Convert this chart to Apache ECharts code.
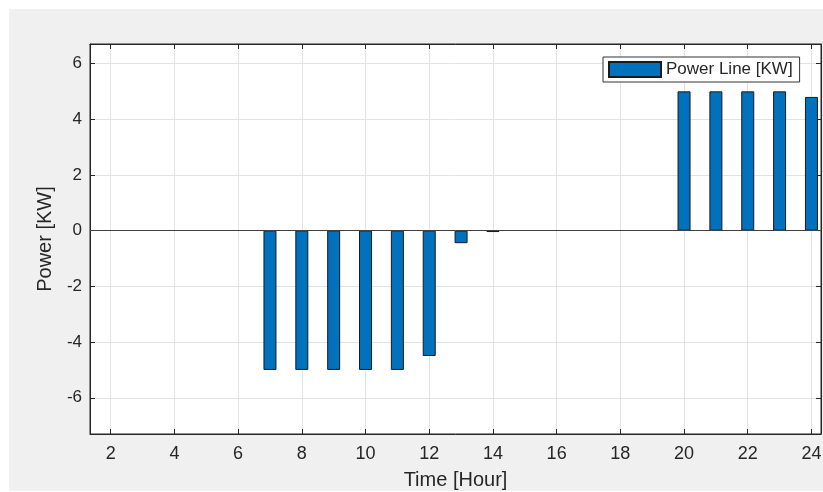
<!DOCTYPE html>
<html><head><meta charset="utf-8">
<script src="https://cdn.jsdelivr.net/npm/echarts@6/dist/echarts.min.js"></script>
<style>html,body{margin:0;padding:0;background:#fff}#c{width:823px;height:492px}</style>
</head><body><div id="c"></div>
<script>
const hours = [1,2,3,4,5,6,7,8,9,10,11,12,13,14,15,16,17,18,19,20,21,22,23,24];
const power = [0,0,0,0,0,0,-5,-5,-5,-5,-5,-4.5,-0.45,-0.05,0,0,0,0,0,5,5,5,5,4.8];
const xTicks = [2,4,6,8,10,12,14,16,18,20,22,24];
const yTicks = [-6,-4,-2,0,2,4,6];
const seriesName = 'Power Line [KW]';
const xTitle = 'Time [Hour]';
const yTitle = 'Power [KW]';

const txt = '#262626';
const font = '"Liberation Sans", Arial, Helvetica, sans-serif';
const chart = echarts.init(document.getElementById('c'), null, {renderer: 'canvas'});
const xr = [1.35, 24.3], yr = [-7.3, 6.7];
const baseAxisLine = {show: true, onZero: false, lineStyle: {color: txt, width: 1}};
chart.setOption({
  backgroundColor: '#ffffff',
  animation: false,
  textStyle: {fontFamily: font, color: txt},
  graphic: [{type: 'rect', z: -100, silent: true, shape: {x: 9, y: 9, width: 814, height: 482}, style: {fill: '#f0f0f0'}}],
  grid: {left: 90, top: 44, right: 2, bottom: 58, outerBoundsMode: 'none', containLabel: false,
         show: true, backgroundColor: '#ffffff', borderColor: txt, borderWidth: 1},
  legend: {
    left: 603, top: 57, padding: [4, 7, 4, 5],
    backgroundColor: '#ffffff', borderColor: '#333333', borderWidth: 1, borderRadius: 0,
    itemWidth: 52, itemHeight: 15, icon: 'rect',
    textStyle: {fontSize: 17, color: txt, fontFamily: font, width: 136},
    data: [seriesName]
  },
  xAxis: [{
    type: 'value', min: xr[0], max: xr[1], position: 'bottom',
    name: xTitle, nameLocation: 'middle', nameGap: 36,
    nameTextStyle: {fontSize: 20, color: txt, fontFamily: font},
    axisLine: baseAxisLine,
    axisTick: {show: true, inside: true, length: 5, customValues: xTicks, lineStyle: {color: txt}},
    axisLabel: {fontSize: 18, color: txt, margin: 11, customValues: xTicks, fontFamily: font},
    splitLine: {show: true, lineStyle: {color: '#e3e3e3', width: 1}}
  }, {
    type: 'value', min: xr[0], max: xr[1], position: 'top',
    axisLine: baseAxisLine,
    axisTick: {show: true, inside: true, length: 5, customValues: xTicks, lineStyle: {color: txt}},
    axisLabel: {show: false, customValues: xTicks},
    splitLine: {show: false}
  }],
  yAxis: [{
    type: 'value', min: yr[0], max: yr[1], position: 'left',
    name: yTitle, nameLocation: 'middle', nameGap: 32,
    nameTextStyle: {fontSize: 20, color: txt, fontFamily: font},
    axisLine: baseAxisLine,
    axisTick: {show: true, inside: true, length: 5, customValues: yTicks, lineStyle: {color: txt}},
    axisLabel: {fontSize: 17, color: txt, margin: 8, customValues: yTicks, fontFamily: font},
    splitLine: {show: true, lineStyle: {color: '#e3e3e3', width: 1}}
  }, {
    type: 'value', min: yr[0], max: yr[1], position: 'right',
    axisLine: baseAxisLine,
    axisTick: {show: true, inside: true, length: 5, customValues: yTicks, lineStyle: {color: txt}},
    axisLabel: {show: false, customValues: yTicks},
    splitLine: {show: false}
  }],
  series: [{
    name: seriesName, type: 'bar', xAxisIndex: 0, yAxisIndex: 0,
    barWidth: 13, clip: true,
    data: hours.map((h, i) => power[i] === 0
      ? {value: [h, power[i]], itemStyle: {borderWidth: 0, opacity: 0}}
      : {value: [h, power[i]]}),
    itemStyle: {color: '#0072BD', borderColor: '#1a1a1a', borderWidth: 1},
    markLine: {
      silent: true, symbol: ['none', 'none'], label: {show: false},
      lineStyle: {color: '#404040', width: 1, type: 'solid'},
      data: [{yAxis: 0}]
    }
  }]
});
</script></body></html>
